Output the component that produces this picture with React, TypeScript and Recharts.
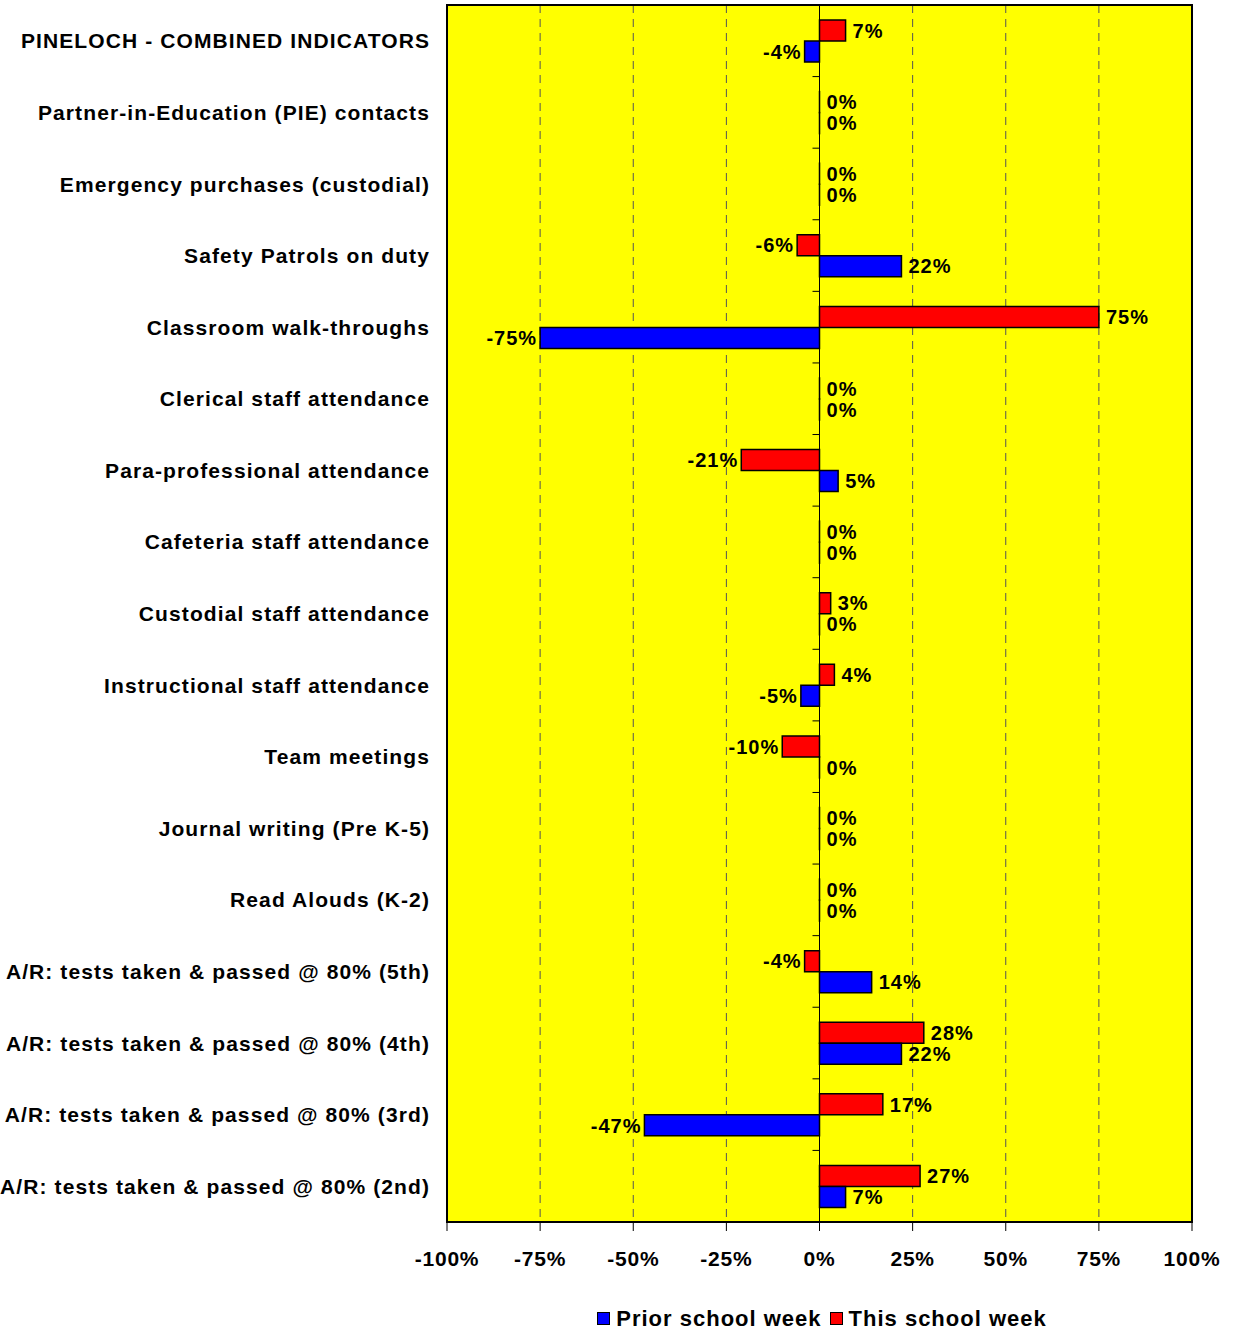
import React from "react";
import { Bar, BarChart, CartesianGrid, LabelList, Legend, ReferenceArea, ReferenceLine, XAxis, YAxis } from "recharts";

document.body.style.margin = "0";

const categories = [
  "PINELOCH - COMBINED INDICATORS",
  "Partner-in-Education (PIE) contacts",
  "Emergency purchases (custodial)",
  "Safety Patrols on duty",
  "Classroom walk-throughs",
  "Clerical staff attendance",
  "Para-professional attendance",
  "Cafeteria staff attendance",
  "Custodial staff attendance",
  "Instructional staff attendance",
  "Team meetings",
  "Journal writing (Pre K-5)",
  "Read Alouds (K-2)",
  "A/R: tests taken & passed @ 80% (5th)",
  "A/R: tests taken & passed @ 80% (4th)",
  "A/R: tests taken & passed @ 80% (3rd)",
  "A/R: tests taken & passed @ 80% (2nd)",
];

const thisWeek = [7, 0, 0, -6, 75, 0, -21, 0, 3, 4, -10, 0, 0, -4, 28, 17, 27];
const priorWeek = [-4, 0, 0, 22, -75, 0, 5, 0, 0, -5, 0, 0, 0, 14, 22, -47, 7];

const xTicks = [-100, -75, -50, -25, 0, 25, 50, 75, 100];

const data = categories.map((name, i) => ({
  name,
  thisWeek: thisWeek[i],
  priorWeek: priorWeek[i],
}));

const W = 1233;
const H = 1330;
const Y_AXIS_W = 447;
const MARGIN = { top: 5, right: 41, left: 0, bottom: 0 };
const PLOT_W = W - Y_AXIS_W - MARGIN.right;
const ZERO_X = Y_AXIS_W + PLOT_W / 2;
const FONT = "Arial, 'Liberation Sans', sans-serif";

// etiqueta del valor: a la derecha si es positivo o cero, a la izquierda si es negativo
function ValueLabel(props: any) {
  const { x, y, width, height, value } = props;
  const left = Math.min(x, x + width);
  const right = Math.max(x, x + width);
  const neg = value < 0;
  return (
    <text
      x={neg ? left - 3 : right + 7}
      y={y + height / 2}
      dy="0.36em"
      textAnchor={neg ? "end" : "start"}
      fontFamily={FONT}
      fontWeight="bold"
      fontSize={20}
      letterSpacing={1}
      fill="#000"
    >
      {Math.round(value)}%
    </text>
  );
}

function CategoryTick(props: any) {
  const { x, y, payload, index } = props;
  const band = (1222 - MARGIN.top) / categories.length;
  return (
    <g>
      <text
        x={x}
        y={y}
        dy="0.36em"
        textAnchor="end"
        fontFamily={FONT}
        fontWeight="bold"
        fontSize={21}
        letterSpacing={1.1}
        fill="#000"
      >
        {payload.value}
      </text>
      {index < categories.length - 1 && (
        <line x1={ZERO_X - 7} x2={ZERO_X} y1={y + band / 2} y2={y + band / 2} stroke="#000" strokeWidth={1} />
      )}
    </g>
  );
}

function LegendBox() {
  const items = [
    { label: "Prior school week", color: "#0000FF" },
    { label: "This school week", color: "#FF0000" },
  ];
  return (
    <div
      style={{
        height: 48,
        display: "flex",
        justifyContent: "center",
        alignItems: "flex-end",
        fontFamily: FONT,
        fontWeight: "bold",
        fontSize: 22,
        letterSpacing: 1,
        color: "#000",
        paddingLeft: 460,
      }}
    >
      {items.map((it) => (
        <span key={it.label} style={{ display: "inline-flex", alignItems: "center", marginRight: 8, lineHeight: "23px" }}>
          <span
            style={{
              width: 11,
              height: 11,
              background: it.color,
              border: "1.5px solid #000",
              marginRight: 6,
              display: "inline-block",
            }}
          />
          {it.label}
        </span>
      ))}
    </div>
  );
}

export default function App() {
  return (
    <BarChart
      width={W}
      height={H}
      data={data}
      layout="vertical"
      margin={MARGIN}
      barCategoryGap="21%"
      barGap={0}
    >
      <CartesianGrid horizontal={false} stroke="#555" strokeDasharray="8 6" fill="#FFFF00" fillOpacity={1} />
      <ReferenceArea x1={-100} x2={100} fill="none" stroke="#000" strokeWidth={2} />
      <XAxis
        type="number"
        domain={[-100, 100]}
        ticks={xTicks}
        tickFormatter={(v) => `${v}%`}
        height={60}
        axisLine={false}
        tickLine={{ stroke: "#000" }}
        tickSize={9}
        tickMargin={20}
        tick={{ fontFamily: FONT, fontWeight: "bold", fontSize: 21, fill: "#000", letterSpacing: 0.8 }}
      />
      <YAxis
        type="category"
        dataKey="name"
        width={Y_AXIS_W}
        axisLine={false}
        tickLine={false}
        tickSize={0}
        tickMargin={17}
        interval={0}
        tick={<CategoryTick />}
      />
      <ReferenceLine x={0} stroke="#000" strokeWidth={1} />
      <Legend verticalAlign="bottom" content={<LegendBox />} />
      <Bar
        dataKey="thisWeek"
        name="This school week"
        fill="#FF0000"
        stroke="#000"
        strokeWidth={1.5}
        minPointSize={0.01}
        isAnimationActive={false}
      >
        <LabelList dataKey="thisWeek" content={<ValueLabel />} />
      </Bar>
      <Bar
        dataKey="priorWeek"
        name="Prior school week"
        fill="#0000FF"
        stroke="#000"
        strokeWidth={1.5}
        minPointSize={0.01}
        isAnimationActive={false}
      >
        <LabelList dataKey="priorWeek" content={<ValueLabel />} />
      </Bar>
    </BarChart>
  );
}
